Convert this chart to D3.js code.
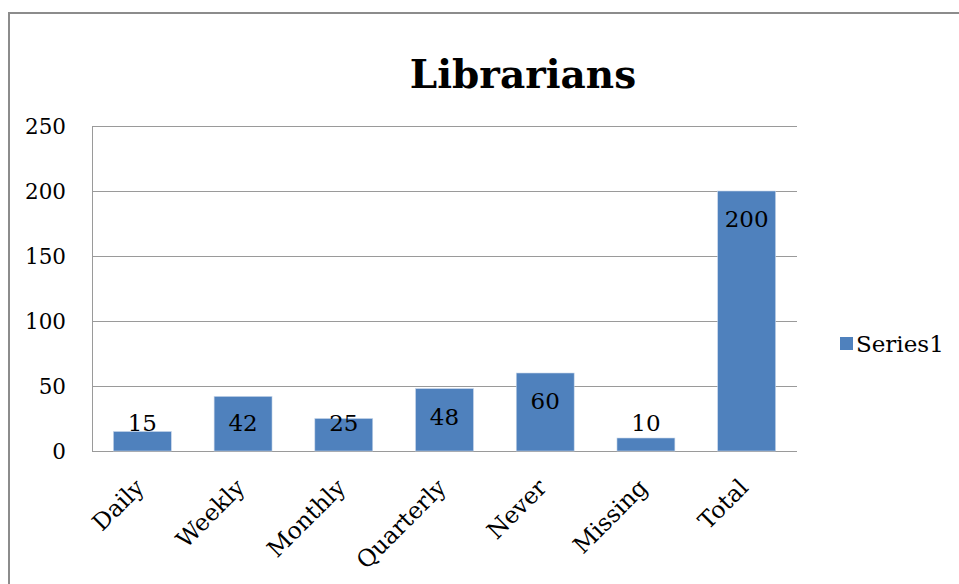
<!DOCTYPE html>
<html>
<head>
<meta charset="utf-8">
<script src="https://cdn.jsdelivr.net/npm/d3@7"></script>
<style>
  html, body { margin: 0; padding: 0; background: #fff; }
  svg { display: block; }
</style>
</head>
<body>
<svg id="chart" width="959" height="584"></svg>
<script>
// Survey responses: how often librarians use the resource
const categories = ["Daily", "Weekly", "Monthly", "Quarterly", "Never", "Missing", "Total"];
const values = [15, 42, 25, 48, 60, 10, 200];
const yTicks = [0, 50, 100, 150, 200, 250];
const seriesName = "Series1";
const chartTitle = "Librarians";

const FONT = "'DejaVu Serif', 'Liberation Serif', serif";
const svg = d3.select("#chart");
const W = 959, H = 584;
const plot = { left: 92, right: 797, top: 126, bottom: 451 };
const barColor = "#4F81BD";

function serif(sel, size, weight) {
  sel.style("font-family", FONT)
     .style("font-size", size + "px")
     .style("font-weight", weight || "normal")
     .attr("fill", "#000");
  return sel;
}

// outer chart frame
svg.append("path")
  .attr("d", `M9,${H} V13 H${W}`)
  .attr("fill", "none")
  .attr("stroke", "#8c8c8c")
  .attr("stroke-width", 2);

const x = d3.scaleBand()
  .domain(categories)
  .range([plot.left, plot.right])
  .paddingInner(0.425)
  .paddingOuter(0.2125);

const y = d3.scaleLinear()
  .domain([0, 250])
  .range([plot.bottom, plot.top]);

// horizontal gridlines
svg.append("g")
  .selectAll("line")
  .data(yTicks)
  .join("line")
  .attr("x1", plot.left)
  .attr("x2", plot.right)
  .attr("y1", d => Math.round(y(d)) + 0.5)
  .attr("y2", d => Math.round(y(d)) + 0.5)
  .attr("stroke", "#9a9a9a")
  .attr("stroke-width", 1);

// value axis line
svg.append("line")
  .attr("x1", plot.left + 0.5).attr("x2", plot.left + 0.5)
  .attr("y1", plot.top).attr("y2", plot.bottom + 1)
  .attr("stroke", "#9a9a9a");

// y axis tick labels
const gy = svg.append("g")
  .attr("transform", `translate(${plot.left - 26},0)`)
  .call(d3.axisLeft(y).tickValues(yTicks).tickSize(0).tickPadding(0));
gy.select(".domain").remove();
serif(gy.selectAll("text"), 21.5).attr("dy", "0.36em");

// bars
svg.append("g")
  .selectAll("rect")
  .data(values)
  .join("rect")
  .attr("x", (d, i) => x(categories[i]))
  .attr("y", d => y(d))
  .attr("width", x.bandwidth())
  .attr("height", d => y(0) - y(d))
  .attr("fill", barColor)
  .attr("stroke", "#c8d6ea")
  .attr("stroke-width", 0.6);

// data labels (inside end, kept clear of the axis)
serif(svg.append("g")
  .selectAll("text")
  .data(values)
  .join("text")
  .attr("x", (d, i) => x(categories[i]) + x.bandwidth() / 2)
  .attr("y", d => Math.min(y(d) + 28, y(0) - 28))
  .attr("dy", "0.36em")
  .attr("text-anchor", "middle")
  .text(d => d), 23);

// category labels, rotated
const gx = svg.append("g")
  .attr("transform", `translate(0,${plot.bottom})`)
  .call(d3.axisBottom(x).tickSize(0).tickPadding(0));
gx.select(".domain").remove();
serif(gx.selectAll("text"), 23.5)
  .attr("text-anchor", "end")
  .attr("dy", 0)
  .attr("y", 0)
  .attr("transform", "translate(3,38) rotate(-45)");

// title
serif(svg.append("text")
  .attr("x", 523)
  .attr("y", 88)
  .attr("text-anchor", "middle")
  .text(chartTitle), 39, "bold");

// legend
const lg = svg.append("g").attr("transform", "translate(840,337)");
lg.append("rect").attr("width", 13).attr("height", 13).attr("fill", barColor);
serif(lg.append("text")
  .attr("x", 16).attr("y", 6.5).attr("dy", "0.36em")
  .text(seriesName), 23);
</script>
</body>
</html>
